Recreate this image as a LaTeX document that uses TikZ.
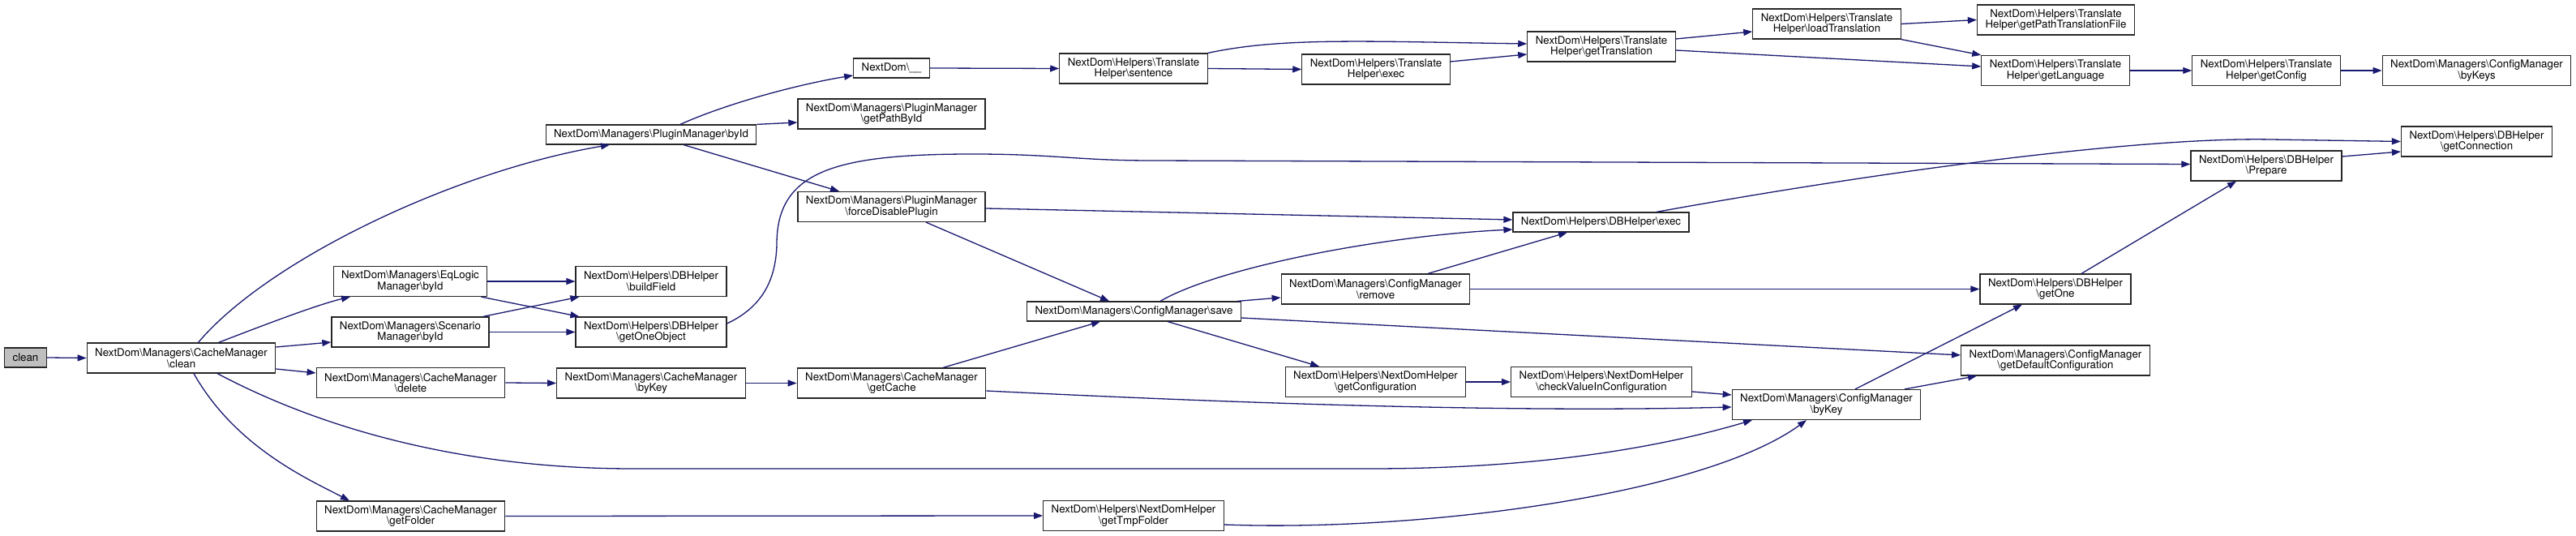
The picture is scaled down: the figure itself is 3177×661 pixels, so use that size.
\documentclass[tikz,border=0pt]{standalone}
\usepackage{fontspec}
\setmainfont{TeX Gyre Heros}
\usepackage{xcolor}
\usepackage{tikz}
\usetikzlibrary{arrows.meta}
\definecolor{edgeblue}{RGB}{25,25,112}
\definecolor{startgray}{RGB}{191,191,191}
\newcommand{\bsl}{\textbackslash}

\begin{document}
\begin{tikzpicture}[
    x=1pt, y=1pt,
    >={Triangle[length=11pt, width=8pt]},
    fnode/.style={draw=black!85, line width=1.2pt, fill=white, align=center, font=\fontsize{13.3}{13.5}\selectfont, inner xsep=10pt, inner ysep=2pt, minimum height=24pt},
    fnode2/.style={fnode, minimum height=37pt},
    call/.style={->, draw=edgeblue, line width=1.3pt},
]
    \useasboundingbox (0,0) rectangle (3177,661);

    \node[fnode, fill=startgray] (clean) at (31.5,220) {clean};
    \node[fnode2] (cmclean) at (223.5,219.5) {NextDom\bsl Managers\bsl CacheManager\\\bsl clean};
    \node[fnode] (pmbyid) at (803,495) {NextDom\bsl Managers\bsl PluginManager\bsl byId};
    \node[fnode2] (eqbyid) at (506,314) {NextDom\bsl Managers\bsl EqLogic\\Manager\bsl byId};
    \node[fnode2] (scbyid) at (506,251.5) {NextDom\bsl Managers\bsl Scenario\\Manager\bsl byId};
    \node[fnode2] (cmdelete) at (506.5,189) {NextDom\bsl Managers\bsl CacheManager\\\bsl delete};
    \node[fnode2] (cmgetfolder) at (506.5,24.5) {NextDom\bsl Managers\bsl CacheManager\\\bsl getFolder};
    \node[fnode] (ndunder) at (1099.5,577) {NextDom\bsl\_\_};
    \node[fnode2] (pmgetpath) at (1099.5,520.5) {NextDom\bsl Managers\bsl PluginManager\\\bsl getPathById};
    \node[fnode2] (pmforce) at (1099.5,406) {NextDom\bsl Managers\bsl PluginManager\\\bsl forceDisablePlugin};
    \node[fnode2] (dbbuild) at (803,314) {NextDom\bsl Helpers\bsl DBHelper\\\bsl buildField};
    \node[fnode2] (dbgetobj) at (803,251.5) {NextDom\bsl Helpers\bsl DBHelper\\\bsl getOneObject};
    \node[fnode2] (cmbykey) at (803,188.5) {NextDom\bsl Managers\bsl CacheManager\\\bsl byKey};
    \node[fnode2] (cmgetcache) at (1099.5,188.5) {NextDom\bsl Managers\bsl CacheManager\\\bsl getCache};
    \node[fnode2] (thsentence) at (1398,576.5) {NextDom\bsl Helpers\bsl Translate\\Helper\bsl sentence};
    \node[fnode2] (thexec) at (1697,575.5) {NextDom\bsl Helpers\bsl Translate\\Helper\bsl exec};
    \node[fnode2] (thgettrans) at (1975,603.5) {NextDom\bsl Helpers\bsl Translate\\Helper\bsl getTranslation};
    \node[fnode2] (thload) at (2253,631.5) {NextDom\bsl Helpers\bsl Translate\\Helper\bsl loadTranslation};
    \node[fnode2] (thpathfile) at (2535.5,636.5) {NextDom\bsl Helpers\bsl Translate\\Helper\bsl getPathTranslationFile};
    \node[fnode2] (thlang) at (2535,574) {NextDom\bsl Helpers\bsl Translate\\Helper\bsl getLanguage};
    \node[fnode2] (thconfig) at (2795,574) {NextDom\bsl Helpers\bsl Translate\\Helper\bsl getConfig};
    \node[fnode2] (cfgbykeys) at (3054.5,574) {NextDom\bsl Managers\bsl ConfigManager\\\bsl byKeys};
    \node[fnode2] (dbprepare) at (2795,456.5) {NextDom\bsl Helpers\bsl DBHelper\\\bsl Prepare};
    \node[fnode2] (dbconn) at (3054.5,486.5) {NextDom\bsl Helpers\bsl DBHelper\\\bsl getConnection};
    \node[fnode] (dbexec) at (1974.5,387) {NextDom\bsl Helpers\bsl DBHelper\bsl exec};
    \node[fnode] (cfgsave) at (1398.5,277) {NextDom\bsl Managers\bsl ConfigManager\bsl save};
    \node[fnode2] (cfgremove) at (1696.5,304.5) {NextDom\bsl Managers\bsl ConfigManager\\\bsl remove};
    \node[fnode2] (ndhgetconf) at (1696.5,190) {NextDom\bsl Helpers\bsl NextDomHelper\\\bsl getConfiguration};
    \node[fnode2] (ndhcheck) at (1975,190) {NextDom\bsl Helpers\bsl NextDomHelper\\\bsl checkValueInConfiguration};
    \node[fnode2] (cfgbykey) at (2252.5,162) {NextDom\bsl Managers\bsl ConfigManager\\\bsl byKey};
    \node[fnode2] (dbgetone) at (2535,304.5) {NextDom\bsl Helpers\bsl DBHelper\\\bsl getOne};
    \node[fnode2] (cfgdefault) at (2535,216.5) {NextDom\bsl Managers\bsl ConfigManager\\\bsl getDefaultConfiguration};
    \node[fnode2] (ndhtmp) at (1398,25) {NextDom\bsl Helpers\bsl NextDomHelper\\\bsl getTmpFolder};

    \draw[call] (clean.east) -- (cmclean.west);
    \draw[call] ([xshift=21pt]cmclean.north) .. controls (330,340) and (560,450) .. ([xshift=-51pt]pmbyid.south);
    \draw[call] ([xshift=46pt]cmclean.north) .. controls (320,258) and (390,285) .. ([xshift=-74pt]eqbyid.south);
    \draw[call] ([yshift=13.5pt]cmclean.east) -- ([yshift=-12.5pt]scbyid.west);
    \draw[call] ([yshift=-13.5pt]cmclean.east) -- ([yshift=12pt]cmdelete.west);
    \draw[call] ([xshift=15.5pt]cmclean.south) .. controls (290,110) and (380,70) .. ([xshift=-75.5pt]cmgetfolder.north);
    \draw[call] ([xshift=44.5pt]cmclean.south) .. controls (420,120) and (600,83) .. (780,83) -- (1690,83) .. controls (1900,83) and (2050,110) .. ([xshift=-91.5pt]cfgbykey.south);
    \draw[call] ([xshift=36pt]pmbyid.north) .. controls (900,535) and (990,558) .. ([yshift=-9pt]ndunder.west);
    \draw[call] (pmbyid.north east) -- ([yshift=-10.5pt]pmgetpath.west);
    \draw[call] ([xshift=40pt]pmbyid.south) -- ([xshift=-64.5pt]pmforce.north);
    \draw[call] (ndunder.east) -- (thsentence.west);
    \draw[call] (thsentence.east) -- (thexec.west);
    \draw[call] (thsentence.north east) .. controls (1580,615) and (1680,610) .. ([yshift=3.5pt]thgettrans.west);
    \draw[call] ([yshift=9.5pt]thexec.east) -- ([yshift=-9.5pt]thgettrans.west);
    \draw[call] ([yshift=9.5pt]thgettrans.east) -- ([yshift=-9.5pt]thload.west);
    \draw[call] ([yshift=-4.5pt]thgettrans.east) -- ([yshift=5pt]thlang.west);
    \draw[call] (thload.east) -- (thpathfile.west);
    \draw[call] (thload.south east) -- (thlang.north west);
    \draw[call] (thlang.east) -- (thconfig.west);
    \draw[call] (thconfig.east) -- (cfgbykeys.west);
    \draw[call] ([yshift=-2pt]pmforce.east) -- ([yshift=3pt]dbexec.west);
    \draw[call] ([xshift=42.5pt]pmforce.south) -- ([xshift=-30.5pt]cfgsave.north);
    \draw[call] (eqbyid.east) -- (dbbuild.west);
    \draw[call] ([xshift=-8pt]eqbyid.south east) -- ([xshift=5pt]dbgetobj.north west);
    \draw[call] ([xshift=-8pt]scbyid.north east) -- ([xshift=5pt]dbbuild.south west);
    \draw[call] (scbyid.east) -- (dbgetobj.west);
    \draw[call] ([yshift=10.5pt]dbgetobj.east) .. controls (935,280) and (957,310) .. (958,360) .. controls (958,450) and (1030,471) .. (1200,471) .. controls (1300,471) and (1330,463) .. (1420,463) -- ([yshift=2pt]dbprepare.west);
    \draw[call] (cmdelete.east) -- (cmbykey.west);
    \draw[call] (cmbykey.east) -- (cmgetcache.west);
    \draw[call] ([xshift=63.5pt]cmgetcache.north) -- ([xshift=-41.5pt]cfgsave.south);
    \draw[call] ([yshift=-9.5pt]cmgetcache.east) .. controls (1600,160) and (1900,153) .. ([yshift=-3pt]cfgbykey.west);
    \draw[call] (cmgetfolder.east) -- (ndhtmp.west);
    \draw[call] ([yshift=-11pt]ndhtmp.east) .. controls (1750,5) and (2100,50) .. ([xshift=-24.5pt]cfgbykey.south);
    \draw[call] ([xshift=32.5pt]cfgsave.north) .. controls (1500,330) and (1700,370) .. ([yshift=-9pt]dbexec.west);
    \draw[call] ([xshift=-5pt]cfgsave.north east) -- ([yshift=-10.5pt]cfgremove.west);
    \draw[call] ([xshift=41.5pt]cfgsave.south) -- ([xshift=-69.5pt]ndhgetconf.north);
    \draw[call] ([yshift=-8pt]cfgsave.east) -- ([yshift=6.5pt]cfgdefault.west);
    \draw[call] ([xshift=64.5pt]cfgremove.north) -- ([xshift=-41.5pt]dbexec.south);
    \draw[call] (cfgremove.east) -- (dbgetone.west);
    \draw[call] (ndhgetconf.east) -- (ndhcheck.west);
    \draw[call] ([yshift=-12pt]ndhcheck.east) -- ([yshift=12pt]cfgbykey.west);
    \draw[call] ([xshift=68.5pt]dbexec.north) .. controls (2350,455) and (2650,492) .. (2800,489) -- (dbconn.west);
    \draw[call] ([xshift=32pt]dbgetone.north) -- ([xshift=-37pt]dbprepare.south);
    \draw[call] ([yshift=11.5pt]dbprepare.east) -- ([yshift=-12.5pt]dbconn.west);
    \draw[call] ([xshift=35.5pt]cfgbykey.north) -- ([xshift=-41pt]dbgetone.south);
    \draw[call] ([xshift=96.5pt]cfgbykey.north) -- ([xshift=-97pt]cfgdefault.south);
\end{tikzpicture}
\end{document}
